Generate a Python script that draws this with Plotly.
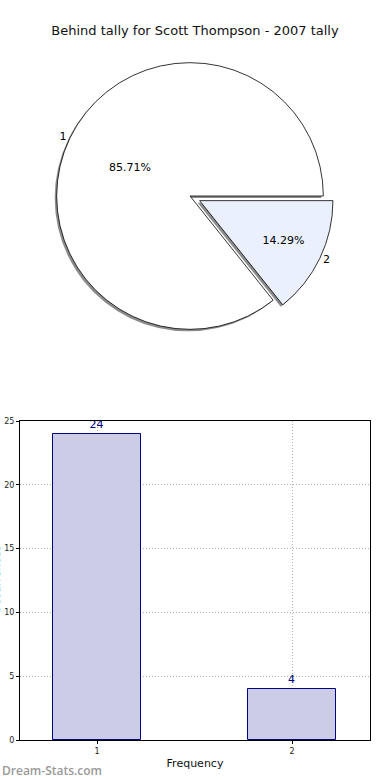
import plotly.graph_objects as go

title_text = "Behind tally for Scott Thompson - 2007 tally"
pie_labels = ["1", "2"]
pie_values = [24, 4]
pie_colors = ["#ffffff", "#eaf0fd"]

bar_categories = [1, 2]
bar_values = [24, 4]
y_ticks = [0, 5, 10, 15, 20, 25]

W, H = 390, 780
ml, mr, mt, mb = 20, 20, 0, 40
pw = W - ml - mr
ph = H - mt - mb

def px_x(x):
    return (x - ml) / pw

def px_y(y):
    return (H - mb - y) / ph

pull = 0.08
cx, cy, r = 190, 196, 144
dom_x = [px_x(cx - r), px_x(cx + r)]
dom_y = [px_y(cy + r), px_y(cy - r)]
sx, sy = -2, 2
shadow_x = [px_x(cx - r + sx), px_x(cx + r + sx)]
shadow_y = [px_y(cy + r + sy), px_y(cy - r + sy)]
rotation = 90 + 360 * pie_values[1] / sum(pie_values)

pie_common = dict(labels=pie_labels, values=pie_values, sort=False,
                  direction="clockwise", rotation=rotation,
                  pull=[0, pull], showlegend=False)

fig = go.Figure()

# shadow
fig.add_trace(go.Pie(
    marker=dict(colors=["#8c8c8c", "#8c8c8c"], line=dict(color="#8c8c8c", width=0)),
    textinfo="none", hoverinfo="skip",
    domain=dict(x=shadow_x, y=shadow_y), **pie_common,
))

# main pie with percent inside
fig.add_trace(go.Pie(
    marker=dict(colors=pie_colors, line=dict(color="#000000", width=0.8)),
    texttemplate="%{percent:.2%}", textposition="inside",
    insidetextorientation="horizontal",
    textfont=dict(family="DejaVu Sans", size=11, color="#000000"),
    domain=dict(x=dom_x, y=dom_y), **pie_common,
))

# transparent overlay for outside labels
fig.add_trace(go.Pie(
    marker=dict(colors=["rgba(0,0,0,0)", "rgba(0,0,0,0)"], line=dict(width=0)),
    texttemplate="%{label}", textposition="outside",
    outsidetextfont=dict(family="DejaVu Sans", size=11, color="#000000"),
    hoverinfo="skip",
    domain=dict(x=dom_x, y=dom_y), **pie_common,
))

fig.add_trace(go.Bar(
    x=bar_categories, y=bar_values, width=0.45,
    marker=dict(color="#ccccE6", line=dict(color="#000080", width=1)),
    text=[str(v) for v in bar_values], textposition="outside",
    textfont=dict(family="DejaVu Sans", size=11, color="#000080"),
    cliponaxis=False, showlegend=False,
    xaxis="x", yaxis="y",
))

axis_common = dict(
    showline=True, linecolor="#000000", linewidth=1, mirror=True,
    showgrid=True, gridcolor="#b0b0b0", griddash="1px,2px", gridwidth=1,
    ticks="outside", ticklen=3, tickcolor="#000000",
    tickfont=dict(family="DejaVu Sans", size=8, color="#222222"),
    zeroline=False, automargin=False,
)

fig.update_layout(
    width=W, height=H,
    margin=dict(l=ml, r=mr, t=mt, b=mb, autoexpand=False),
    paper_bgcolor="#ffffff", plot_bgcolor="#ffffff",
    title=dict(text=title_text, x=0.5, xanchor="center",
               y=1 - 30 / H, yanchor="middle", yref="container",
               font=dict(family="DejaVu Sans", size=13, color="#111111")),
    xaxis=dict(domain=[0, 1], range=[0.605, 2.4], tickvals=bar_categories,
               ticktext=[str(c) for c in bar_categories],
               title=dict(text="Frequency", standoff=4,
                          font=dict(family="DejaVu Sans", size=11, color="#111111")),
               **axis_common),
    yaxis=dict(domain=[0, px_y(421)], range=[0, 25], tickvals=y_ticks, **axis_common),
    bargap=0,
    annotations=[
        dict(text="Occurrences", xref="paper", yref="paper",
             x=px_x(-4), y=px_y(580), xanchor="center", yanchor="middle",
             textangle=-90, showarrow=False,
             font=dict(family="DejaVu Sans", size=11, color="#111111")),
        dict(text="Dream-Stats.com", xref="paper", yref="paper",
             x=px_x(0), y=px_y(770), xanchor="left", yanchor="middle",
             showarrow=False,
             font=dict(family="Open Sans", size=12, color="#999999", weight=600)),
    ],
)

fig.write_html("out.html", config={"displayModeBar": False},
               post_script="document.body.style.margin='0';")
